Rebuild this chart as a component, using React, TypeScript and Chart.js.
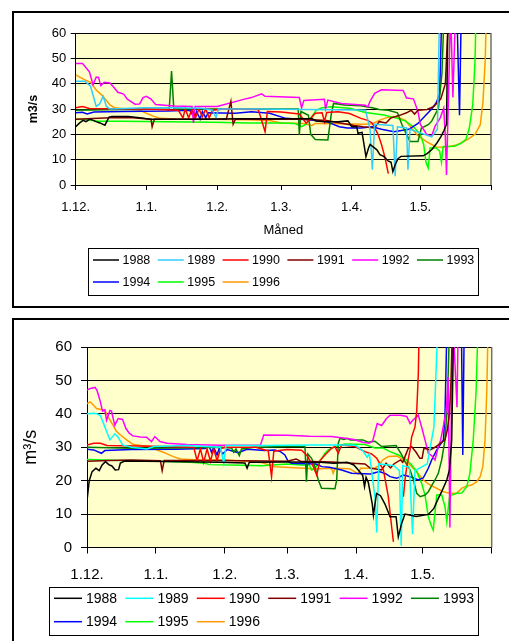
import React, { useEffect, useRef } from 'react';
import { Chart, registerables } from 'chart.js';

Chart.register(...registerables);

const FONT = '"Liberation Sans", Arial, Helvetica, sans-serif';
Chart.defaults.font.family = FONT;
Chart.defaults.color = '#000';

type Pt = [number, number | null];

// ---------- categories / ticks ----------
const years = ['1988', '1989', '1990', '1991', '1992', '1993', '1994', '1995', '1996'];
const xTickDays = [0, 31, 62, 90, 121, 151, 182];
const xTickLabels = ['1.12.', '1.1.', '1.2.', '1.3.', '1.4.', '1.5.', ''];
const topColors = ['#000000', '#33CCFF', '#FF0000', '#800000', '#FF00FF', '#008000', '#0000FF', '#00FF00', '#FF9900'];
const botColors = ['#000000', '#00FFFF', '#FF0000', '#800000', '#FF00FF', '#008000', '#0000FF', '#00FF00', '#FF9900'];

// ---------- top chart series: [day since 1.12., m3/s] ----------
const top1988: Pt[] = [[0,23],[1.5,24.3],[3.2,25.5],[4.5,25],[6.3,26],[8.9,25],[10.6,24.5],[12.8,23.6],[14.6,26.8],[15.9,27],[23,27],[28,26.5],[32.6,26],[54.5,26],[72,26.2],[94,26.2],[103.6,26.2],[105.3,25.3],[109.2,25],[115,25],[119.3,25.3],[121,23],[123.2,23],[123.7,20.4],[125.5,20.8],[127.2,11.2],[128.3,14.5],[129,16],[132,13.9],[133.3,12],[135,11.3],[136.9,9.5],[138.2,9],[139,5.3],[140,8],[141.3,10.5],[142.6,11.3],[152.2,11.5],[154,12.4],[156.1,14],[158.3,16.6],[160,19],[161.4,21.5],[162.5,24],[163.2,70]];
const top1989: Pt[] = [[0,41],[4,41],[6.5,39],[9,31],[10.5,32],[12,35],[13.5,31],[15,30],[30,30.5],[45,30.5],[55,30.3],[60,29.5],[61.5,26.5],[62.5,30],[80,30],[100,29.8],[125,29.6],[127,29.5],[129,22],[130,6],[131,24],[139,23.5],[140,3.5],[141,23],[145,22.5],[145.6,6],[146.5,22],[156,19],[158.5,22],[159.5,70]];
const top1990: Pt[] = [[0,30.5],[3,31],[6,30.2],[30,30],[45,29.5],[47,26.5],[48,30],[49.5,26.5],[51,30],[52.5,26.5],[54,30],[55.5,27],[57,30],[58.5,26.5],[60,29.5],[65,30],[80,29.8],[82,24],[83,21],[84,29],[90,28.8],[98,28],[101,24.4],[103,26.3],[105,28.3],[108,28.5],[109,25],[110,28.6],[115,28.9],[120,28.2],[125,26.3],[128,25.5],[130,24.4],[132.5,20],[134,16],[135.5,11],[137,4.5]];
const top1991: Pt[] = [[0,26],[15,26.5],[25,26.5],[33,26],[33.5,23],[34.5,26],[66,26],[68,33],[69,24],[70,26],[100,26],[110,25.5],[119,24],[122,23.5],[126,23],[131,22.5],[133,25],[136,24.5],[138,26.4],[142,27.5],[145,28.5],[147,29.5],[148.5,28],[150,29.5],[154,29.8],[157,31],[160,34],[162,40],[163.5,70]];
const top1992: Pt[] = [[0,48],[3,48],[6,44.7],[7.6,39.6],[9,42.6],[10,42.5],[11,39.2],[12.5,40.5],[15,40.3],[16.5,38.8],[18.5,36.6],[21,35.9],[22.6,33.9],[26,31.9],[28,32],[29.5,34.5],[31,35],[33,33.9],[35,31.8],[43,31.2],[51,31],[51.6,24.5],[52.3,31],[62,31],[74,33.9],[77,34.5],[81.5,36],[83,35],[98,34.5],[99,30.5],[100,33.4],[109,33.8],[109.5,30.1],[110.5,33.5],[116.5,32.2],[127,31.5],[128,30.8],[129,33],[131,36.2],[134,37.6],[143.5,37.3],[145,34.3],[148,34],[150,29],[151,24],[153.8,20],[156,19.3],[157.5,23.3],[159.7,26.4],[161.3,30.3],[162,18.8],[162.5,4],[163.5,40],[164.3,70],[165.3,34.5],[166.5,70]];
const top1993: Pt[] = [[0,29.5],[20,29.8],[41,30],[42,45],[43,30],[60,30],[97.5,30],[98,19.8],[98.7,29],[102,27.5],[103,20],[105,18],[110.5,17.8],[112,28],[113,32.2],[118,31.6],[125,31.3],[130,30.5],[133,29.8],[137,29.5],[141,28.5],[143,23.8],[145,20],[146.5,17.2],[150,17.2],[151.5,22.5],[154.5,23.8],[156,25.2],[157.5,27.8],[159,30.5],[160.5,44],[161.5,70]];
const top1994: Pt[] = [[0,28.5],[3,28.7],[5,28],[8,28.8],[20,29],[40,29.2],[50,29.5],[52,26.5],[53,29],[54.5,26],[55.5,29],[57,26.5],[58,28.5],[70,28.3],[77,28.9],[85,28.3],[92,26.3],[103,25.7],[110,25],[115.5,23],[119,22.5],[125,22.5],[130,23],[134,22],[139.5,21],[146,22],[150,24.3],[153.5,27.6],[156,30],[158,32.5],[159.5,36],[160.5,70],[167,70],[168.2,27.5],[169,70]];
const top1995: Pt[] = [[0,26],[5,25.8],[10,25.2],[20,25.2],[40,25],[60,24.8],[76,24.5],[90,24.5],[96,24.3],[99,23],[101,24],[103,26.5],[105.5,29.6],[108,30.5],[112,30.9],[120,30.3],[127,28.6],[135,27.6],[141,26.3],[144.5,25.2],[148,23],[151,20],[152.5,15.9],[153.5,9],[154.5,6.7],[155.3,14.6],[158,14.6],[159.5,13.3],[160.3,9],[161,15.2],[166,15.3],[169,16.5],[171,18],[172.5,22.5],[174,31.7],[175,49],[175.5,70]];
const top1996: Pt[] = [[0,43.5],[2,42.5],[4,41.5],[6.5,40.5],[9,37.5],[12,35],[15,31.6],[17,30.5],[22,30],[28,29.6],[31,28.3],[34,27.2],[37,26.3],[45,26],[60,26],[75,25.8],[85,25.5],[90,24.5],[100,24.3],[103.5,23.5],[105,24.3],[115,24.2],[127,24],[130,24.2],[133,25.5],[136,26.5],[139,27],[142,26.5],[144.5,25.5],[146.5,23.2],[149.5,19.9],[153.5,17.2],[158,15],[162,14.9],[167,15.8],[171.5,17.8],[175,20],[177.3,23.8],[178.5,33],[179.5,50],[180,70]];

// ---------- bottom chart series ----------
const bot1988: Pt[] = [[0,14],[1,20],[2.3,22.7],[4,23.7],[5.5,23],[6.8,24.7],[8.3,25.7],[9.8,24.8],[11.2,24.4],[12.7,23.2],[14.2,23.3],[15,25.3],[17,25.9],[35,25.7],[60,25.5],[71,25.3],[72,23.7],[73,25.5],[90,25.6],[105,25.5],[111,25.2],[117,25.5],[120,24.7],[122,23.2],[124,21.5],[124.8,18.2],[125.5,21],[126.5,19.5],[128.3,13],[128.8,9.7],[130.2,16.2],[132,15.5],[134,13],[136.3,9.2],[139,9.2],[140,3.2],[141.5,7.2],[143,10],[148,9.3],[153.5,9.9],[156,11.7],[158,14.7],[159.5,16.7],[161.8,20.2],[163,23.2],[164,32],[165,70]];
const bot1989: Pt[] = [[0,40],[3,40.2],[4.5,40],[6,39.5],[7.5,37],[10.3,32.2],[12.5,34],[14,33],[16,30.7],[20,30],[27,29.5],[30,30.2],[45,30.5],[60,30],[61.5,25.2],[62.5,30.5],[80,30.5],[100,30.7],[118,30.7],[121,30.5],[124,29],[126,27],[127,28],[129.5,15],[130.3,4.5],[131.2,25],[138,24.5],[140.5,23],[141.3,0.5],[142,24.5],[145,24],[146.4,4],[147.5,23],[153,25],[156,36],[158,70]];
const bot1990: Pt[] = [[0,30.7],[3,31.2],[6,31.2],[9,30.5],[30,30.3],[48,30],[49.5,26],[51,29.5],[52.5,25.5],[54,29.5],[55.5,25.8],[57,29.5],[58.5,26],[60,29.5],[62,30],[76,30],[80,29.2],[81.5,29],[83,21.2],[84,28.8],[90,29.3],[96.5,29.1],[99,27.5],[101.8,24.2],[103.3,21.7],[104.8,26],[107,27.7],[110,29.7],[111.5,30.2],[113,28.2],[114.5,30.7],[120.5,30.2],[125,28.7],[128,28],[130.3,26.7],[133.3,23.2],[135.5,15.2],[137,6.2],[137.8,1.7],[140,null],[142.3,15.2],[143,20.2],[143.8,24.2],[145.3,29.2],[146,33.1],[147.5,36.1],[148.3,41],[149,52],[149.5,70]];
const bot1991: Pt[] = [[0,25.8],[10,26],[20,26.2],[33,26],[33.8,23],[34.7,26],[60,26],[90,25.8],[94,26.5],[96,25.8],[110,25.6],[125,25],[127.5,23.7],[130,23.5],[132.5,23.2],[134.5,25.2],[136.5,23.8],[138,25],[141,26.2],[142,25.5],[143,27.2],[144.5,29.7],[146,30.2],[148,28.5],[149.7,26.7],[150.7,26.7],[151.5,29.7],[153,29.5],[154.3,29.2],[156.5,30],[158,30.7],[161,32.2],[162,35],[163,40],[163.7,50],[164.5,70]];
const bot1992: Pt[] = [[0,47.1],[1.5,47.6],[3.6,47.9],[4.5,47],[5.8,44.1],[7,40.8],[8,41.2],[8.8,38.1],[10.3,41],[11,40.8],[12.5,36.6],[14,38.6],[16,38.3],[17.5,35.6],[19,34.2],[20.6,33.4],[24,33.1],[26.8,33],[29,31.7],[30.5,33.2],[32.8,31.7],[36,31.2],[45,30.8],[60,30.6],[78,30.7],[79.5,33.7],[90,33.6],[100,33.3],[110,33.2],[116,32.7],[120,32.3],[124,31.5],[127,31.2],[128.5,32],[130.5,37.1],[132.5,36.5],[134.7,38.6],[136.3,39.6],[141,39.6],[143.8,39.2],[145.3,37.1],[146.4,38],[149,39.6],[150.5,36],[152,32.2],[153.5,28.2],[155,27.5],[156.5,26.2],[158,30.2],[159,32],[160.5,37.1],[161.7,42],[162.4,51],[163.2,6],[164.4,70],[166.4,42],[167,70]];
const bot1993: Pt[] = [[0,30],[20,29.7],[40,29.8],[60,30],[65,29.8],[66,28.5],[67,29.5],[68.5,27.5],[69.5,29.5],[75,30],[90,30.2],[98,30.2],[98.7,19.7],[99.3,28],[101,26.7],[102.5,24.2],[104,20.2],[105.5,17.7],[111.5,17.6],[112.3,20.2],[113,31.2],[113.8,32.7],[115.5,32.3],[117,32.7],[118.5,32.2],[124,32.2],[126.5,31.5],[129.5,31.8],[132.5,30.2],[139,30.5],[141.3,28],[143,25.7],[145.3,23.2],[146.8,20.2],[148.3,16.2],[149.8,15.2],[152,15.7],[153.5,16.7],[155,18.5],[156.5,20.2],[158,22.2],[159.5,26.2],[161,32.2],[162,42],[163.2,70]];
const bot1994: Pt[] = [[0,29.4],[3,29.2],[6.5,28.2],[8,29],[20,29.3],[40,29.4],[53,29.6],[55,30.2],[56,28.5],[57,30],[58.5,27.7],[59.5,29.8],[61,28],[63,29.3],[68,28.4],[72,29.4],[80,29],[84.5,29.2],[87,28.7],[89,27.7],[90.5,25.7],[92,25.2],[103,25],[105.6,24.2],[109,24],[114.5,23.2],[119,22.2],[127.5,22],[131.5,22.7],[134.5,22],[136.3,21.2],[139.3,20.7],[142.3,21.7],[145.3,21.2],[149,20.2],[151.2,20.8],[153.5,23.7],[155,26.2],[157.3,29.2],[158.8,30.7],[160.3,32.2],[161,40],[162,70],[168.3,70],[169,27.7],[169.7,70]];
const bot1995: Pt[] = [[0,26.3],[15,26],[28,25.9],[45,25.6],[53,25.2],[55,24.8],[70,24.6],[78.5,24.5],[90,25],[96.5,24.7],[100,24.7],[101,23.2],[102.5,23.6],[104,25.2],[105.6,26.7],[107,28.2],[108.5,29.2],[111.5,30.2],[116,31],[125,30.8],[129.5,29.8],[133,29.8],[136.3,28.7],[140,27.7],[143.8,26.2],[146,24.7],[148.3,22.7],[150.5,19.2],[152,15.7],[153.5,9.2],[155,6.2],[155.7,5.2],[157.3,15.7],[159.5,15.8],[161,12.2],[161.8,7.7],[163,15],[164,15.7],[166.3,16.2],[168.5,16.3],[170.8,18.2],[172.2,22.2],[173.7,32.2],[175,47],[176,70]];
const bot1996: Pt[] = [[0,43.1],[1.5,43.6],[3,42.5],[4.3,41.6],[8,41.1],[9.5,39.1],[11.7,36.6],[13.2,34.8],[14.8,33.8],[17.8,32.2],[20.8,30.8],[28,30.2],[31.3,29.2],[34,28.6],[36,28],[38.8,27.2],[42,26.5],[50,26.2],[63,26.2],[78.5,25.4],[84.5,24.2],[98,23.7],[102,23.5],[110,23.7],[110.7,22.2],[111.5,23.7],[118,23.6],[122,22],[123,23.7],[129.5,23.8],[131.3,24.5],[133,26.2],[135.5,27.2],[139.3,27.4],[142.3,26.2],[145.3,24.7],[148.3,22.7],[151.2,20.2],[154.3,18.7],[157.3,17.7],[160.3,16.7],[163.3,16.2],[166.3,16.3],[168.5,17.7],[171,18.5],[173,18.7],[175.3,19.7],[176.8,21.2],[178,24.2],[179,32.2],[179.8,47],[180.5,70]];

const topSeries = [top1988, top1989, top1990, top1991, top1992, top1993, top1994, top1995, top1996];
const botSeries = [bot1988, bot1989, bot1990, bot1991, bot1992, bot1993, bot1994, bot1995, bot1996];

// ---------- layout / style config ----------
type LegendCfg = { x: number; y: number; w: number; h: number; x0: number; dx: number; rows: number[]; len: number; gap: number; font: number; lw: number };
type PanelCfg = {
  left: number; top: number; width: number; height: number;
  padding: { top: number; right: number; bottom: number; left: number };
  yAxisWidth: number; xAxisHeight: number;
  tickLen: number; yTickPad: number; xTickPad: number; tickFont: number;
  yTitle: string; yTitleFont: number; yTitleBold: boolean; yTitlePad: number;
  xTitle: string | null; xTitleFont: number;
  lineWidth: number; colors: string[]; legend: LegendCfg;
};

const topCfg: PanelCfg = {
  left: 14, top: 13, width: 494, height: 292,
  padding: { top: 20, right: 17, bottom: 66.5, left: 0 },
  yAxisWidth: 61.7, xAxisHeight: 53.5,
  tickLen: 5, yTickPad: 4.5, xTickPad: 10, tickFont: 13,
  yTitle: 'm3/s', yTitleFont: 12.5, yTitleBold: true, yTitlePad: 12.5,
  xTitle: 'Måned', xTitleFont: 13,
  lineWidth: 1.5, colors: topColors,
  legend: { x: 74, y: 235, w: 390, h: 47, x0: 79, dx: 64.8, rows: [247, 269], len: 26, gap: 3.5, font: 12.5, lw: 1.5 },
};

const botCfg: PanelCfg = {
  left: 14, top: 320, width: 494, height: 321,
  padding: { top: 27, right: 16.3, bottom: 57.5, left: 0 },
  yAxisWidth: 73, xAxisHeight: 36,
  tickLen: 6, yTickPad: 9, xTickPad: 12, tickFont: 15,
  yTitle: 'm³/s', yTitleFont: 18, yTitleBold: false, yTitlePad: 6.2,
  xTitle: null, xTitleFont: 13,
  lineWidth: 1.5, colors: botColors,
  legend: { x: 35, y: 267, w: 429, h: 48, x0: 40, dx: 71.4, rows: [278.3, 301.7], len: 28, gap: 4, font: 14, lw: 1.5 },
};

const plotPlugin = {
  id: 'plotArea',
  beforeDraw(chart: any) {
    const { ctx, chartArea: a } = chart;
    ctx.save();
    ctx.fillStyle = '#FFFFCC';
    ctx.fillRect(a.left, a.top, a.right - a.left, a.bottom - a.top);
    ctx.restore();
  },
  afterDatasetsDraw(chart: any) {
    const { ctx, chartArea: a } = chart;
    ctx.save();
    ctx.strokeStyle = '#707070';
    ctx.lineWidth = 1.5;
    ctx.beginPath();
    ctx.moveTo(a.right, a.top);
    ctx.lineTo(a.right, a.bottom);
    ctx.stroke();
    ctx.restore();
  },
};

function legendPlugin(cfg: LegendCfg) {
  return {
    id: 'boxLegend',
    afterDraw(chart: any) {
      const ctx = chart.ctx;
      ctx.save();
      ctx.strokeStyle = '#000';
      ctx.lineWidth = 1;
      ctx.strokeRect(Math.round(cfg.x) + 0.5, Math.round(cfg.y) + 0.5, cfg.w, cfg.h);
      ctx.font = `${cfg.font}px ${FONT}`;
      ctx.textBaseline = 'middle';
      ctx.textAlign = 'left';
      chart.data.datasets.forEach((ds: any, i: number) => {
        const row = Math.floor(i / 6);
        const col = i % 6;
        const lx = cfg.x0 + col * cfg.dx;
        const ly = cfg.rows[row];
        ctx.strokeStyle = ds.borderColor;
        ctx.lineWidth = cfg.lw;
        ctx.beginPath();
        ctx.moveTo(lx, ly);
        ctx.lineTo(lx + cfg.len, ly);
        ctx.stroke();
        ctx.fillStyle = '#000';
        ctx.fillText(ds.label, lx + cfg.len + cfg.gap, ly + 0.5);
      });
      ctx.restore();
    },
  };
}

function makeConfig(cfg: PanelCfg, series: Pt[][]) {
  return {
    type: 'line',
    data: {
      datasets: series.map((s, i) => ({
        label: years[i],
        data: s.map(([x, y]) => ({ x, y })),
        borderColor: cfg.colors[i],
        backgroundColor: cfg.colors[i],
        borderWidth: cfg.lineWidth,
        pointRadius: 0,
        tension: 0,
        fill: false,
        spanGaps: false,
      })),
    },
    options: {
      responsive: false,
      animation: false,
      devicePixelRatio: 1,
      events: [],
      layout: { padding: cfg.padding },
      plugins: { legend: { display: false }, tooltip: { enabled: false } },
      scales: {
        x: {
          type: 'linear',
          min: 0,
          max: 182,
          afterBuildTicks: (axis: any) => {
            axis.ticks = xTickDays.map((v) => ({ value: v }));
          },
          afterFit: (axis: any) => {
            axis.height = cfg.xAxisHeight;
          },
          ticks: {
            autoSkip: false,
            maxRotation: 0,
            padding: cfg.xTickPad,
            color: '#000',
            font: { family: FONT, size: cfg.tickFont },
            callback: (_v: any, i: number) => xTickLabels[i],
          },
          grid: { drawOnChartArea: false, drawTicks: true, tickLength: cfg.tickLen, color: '#000', lineWidth: 1 },
          border: { display: true, color: '#000', width: 1 },
          title: cfg.xTitle
            ? { display: true, text: cfg.xTitle, color: '#000', font: { family: FONT, size: cfg.xTitleFont }, padding: { top: 0, bottom: 0 } }
            : { display: false },
        },
        y: {
          min: 0,
          max: 60,
          afterFit: (axis: any) => {
            axis.width = cfg.yAxisWidth;
          },
          ticks: { stepSize: 10, padding: cfg.yTickPad, color: '#000', font: { family: FONT, size: cfg.tickFont } },
          grid: { color: '#000', lineWidth: 1, tickLength: cfg.tickLen },
          border: { display: true, color: '#000', width: 1 },
          title: {
            display: true,
            text: cfg.yTitle,
            color: '#000',
            font: { family: FONT, size: cfg.yTitleFont, weight: cfg.yTitleBold ? 'bold' : 'normal' },
            padding: { top: cfg.yTitlePad, bottom: 0 },
          },
        },
      },
    },
    plugins: [plotPlugin, legendPlugin(cfg.legend)],
  };
}

function Panel({ cfg, series }: { cfg: PanelCfg; series: Pt[][] }) {
  const ref = useRef<HTMLCanvasElement>(null);
  useEffect(() => {
    const chart = new Chart(ref.current as HTMLCanvasElement, makeConfig(cfg, series) as any);
    return () => chart.destroy();
  }, []);
  return (
    <canvas
      ref={ref}
      width={cfg.width}
      height={cfg.height}
      style={{ position: 'absolute', left: cfg.left, top: cfg.top, width: cfg.width, height: cfg.height }}
    />
  );
}

export default function App() {
  return (
    <div style={{ position: 'absolute', left: 0, top: 0, width: 509, height: 641, overflow: 'hidden', background: '#fff' }}>
      <div style={{ position: 'absolute', left: 12, top: 11, width: 510, height: 297, border: '2px solid #000', boxSizing: 'border-box' }} />
      <div style={{ position: 'absolute', left: 12, top: 318, width: 510, height: 340, border: '2px solid #000', boxSizing: 'border-box' }} />
      <Panel cfg={topCfg} series={topSeries} />
      <Panel cfg={botCfg} series={botSeries} />
    </div>
  );
}
